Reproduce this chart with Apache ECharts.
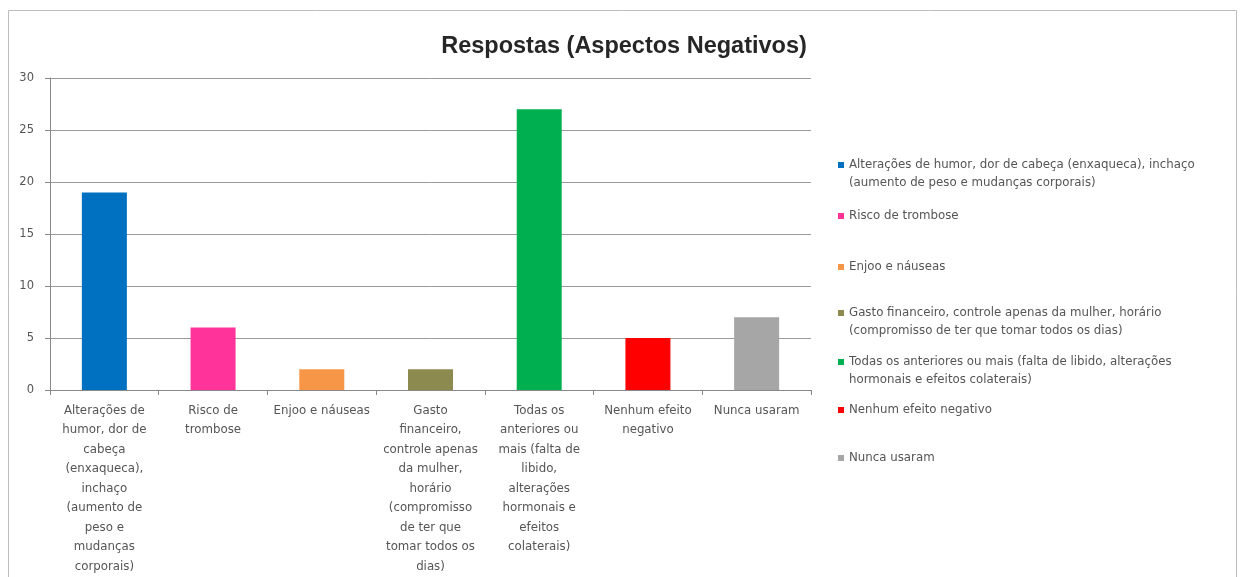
<!DOCTYPE html>
<html>
<head>
<meta charset="utf-8">
<script src="https://cdn.jsdelivr.net/npm/echarts@6/dist/echarts.min.js"></script>
<style>
  html, body { margin: 0; padding: 0; background: #fff; }
  #chart { width: 1240px; height: 577px; }
</style>
</head>
<body>
<div id="chart"></div>
<script>
// Categories (axis labels, wrapped as displayed under the bars)
const categories = [
  'Alterações de\nhumor, dor de\ncabeça\n(enxaqueca),\ninchaço\n(aumento de\npeso e\nmudanças\ncorporais)',
  'Risco de\ntrombose',
  'Enjoo e náuseas',
  'Gasto\nfinanceiro,\ncontrole apenas\nda mulher,\nhorário\n(compromisso\nde ter que\ntomar todos os\ndias)',
  'Todas os\nanteriores ou\nmais (falta de\nlibido,\nalterações\nhormonais e\nefeitos\ncolaterais)',
  'Nenhum efeito\nnegativo',
  'Nunca usaram'
];

// Legend entries (one per series)
const seriesNames = [
  'Alterações de humor, dor de cabeça (enxaqueca), inchaço\n(aumento de peso e mudanças corporais)',
  'Risco de trombose',
  'Enjoo e náuseas',
  'Gasto financeiro, controle apenas da mulher, horário\n(compromisso de ter que tomar todos os dias)',
  'Todas os anteriores ou mais (falta de libido, alterações\nhormonais e efeitos colaterais)',
  'Nenhum efeito negativo',
  'Nunca usaram'
];

// Number of responses per category
const values = [19, 6, 2, 2, 27, 5, 7];

const colors = ['#0070C0', '#FF3399', '#F79646', '#8C8A4E', '#00B050', '#FF0000', '#A6A6A6'];

const yTicks = { min: 0, max: 30, interval: 5 };

const FONT = 'DejaVu Sans, Liberation Sans, sans-serif';
const LEGEND_LH = 18;

// Vertical centre of the first text line of each legend entry
const legendLineY = [165, 216, 267, 313, 362, 410, 458];

// Square marker for single-line entries; for two-line entries the square sits
// at the top of a taller (otherwise empty) icon so it lines up with the first line.
const squareIcon = 'rect';
const topSquareIcon = 'path://M0,0h6v6h-6z M0,23.98h0.02v0.02h-0.02z';

const series = values.map((v, i) => ({
  name: seriesNames[i],
  type: 'bar',
  stack: 'total',
  barWidth: 45,
  itemStyle: { color: colors[i] },
  data: values.map((_, j) => (j === i ? v : '-'))
}));

const legends = seriesNames.map((name, i) => {
  const twoLines = name.indexOf('\n') >= 0;
  return {
    data: [name],
    left: 838,
    top: legendLineY[i] - LEGEND_LH / 2,
    padding: 0,
    orient: 'vertical',
    itemWidth: 6,
    itemHeight: twoLines ? 24 : 6,
    itemGap: 0,
    icon: twoLines ? topSquareIcon : squareIcon,
    selectedMode: false,
    textStyle: { fontSize: 11.8, color: '#555', lineHeight: LEGEND_LH, fontFamily: FONT }
  };
});

const chart = echarts.init(document.getElementById('chart'), null, { renderer: 'canvas' });
chart.setOption({
  animation: false,
  backgroundColor: '#fff',
  title: {
    text: 'Respostas (Aspectos Negativos)',
    left: 619,
    top: 30,
    textAlign: 'center',
    textStyle: { fontSize: 23.5, fontWeight: 'bold', color: '#262626', fontFamily: 'Liberation Sans, Arial, sans-serif' }
  },
  graphic: [{
    type: 'rect',
    shape: { x: 8.5, y: 10.5, width: 1228, height: 580 },
    style: { fill: 'none', stroke: '#BDBDBD', lineWidth: 1 },
    silent: true
  }],
  legend: legends,
  grid: { left: 50, right: 429, top: 78, bottom: 187, containLabel: false },
  xAxis: {
    type: 'category',
    data: categories,
    axisLine: { lineStyle: { color: '#888' } },
    axisTick: { show: true, length: 5, lineStyle: { color: '#888' } },
    axisLabel: {
      interval: 0,
      fontSize: 11.8,
      lineHeight: 19.5,
      color: '#555',
      margin: 11,
      fontFamily: FONT
    }
  },
  yAxis: {
    type: 'value',
    min: yTicks.min,
    max: yTicks.max,
    interval: yTicks.interval,
    axisLine: { show: true, lineStyle: { color: '#888' } },
    axisTick: { show: true, length: 5, lineStyle: { color: '#888' } },
    axisLabel: { fontSize: 11.5, color: '#555', margin: 16, fontFamily: FONT },
    splitLine: { lineStyle: { color: '#9A9A9A', width: 1 } }
  },
  series: series
});
</script>
</body>
</html>
